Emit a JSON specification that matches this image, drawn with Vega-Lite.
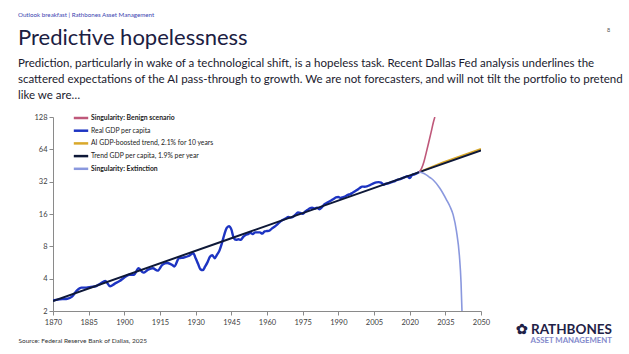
{
  "$schema": "https://vega.github.io/schema/vega-lite/v6.json",
  "background": "white",
  "padding": {"left": 18, "top": 12, "right": 17, "bottom": 0},
  "config": {
    "font": "Lato",
    "view": {"stroke": null},
    "concat": {"spacing": 0}
  },
  "title": {
    "text": "8",
    "anchor": "start",
    "frame": "group",
    "dx": 554,
    "dy": 21,
    "fontSize": 5.5,
    "fontWeight": "normal",
    "color": "#555555",
    "offset": 0
  },
  "data": {
    "values": [
      {"series": "Real GDP per capita", "year": 1870, "value": 2.5},
      {"series": "Real GDP per capita", "year": 1872, "value": 2.55},
      {"series": "Real GDP per capita", "year": 1874, "value": 2.58},
      {"series": "Real GDP per capita", "year": 1876, "value": 2.6},
      {"series": "Real GDP per capita", "year": 1878, "value": 2.72},
      {"series": "Real GDP per capita", "year": 1880, "value": 3.1},
      {"series": "Real GDP per capita", "year": 1882, "value": 3.3},
      {"series": "Real GDP per capita", "year": 1884, "value": 3.3},
      {"series": "Real GDP per capita", "year": 1886, "value": 3.35},
      {"series": "Real GDP per capita", "year": 1888, "value": 3.4},
      {"series": "Real GDP per capita", "year": 1890, "value": 3.6},
      {"series": "Real GDP per capita", "year": 1892, "value": 3.8},
      {"series": "Real GDP per capita", "year": 1894, "value": 3.4},
      {"series": "Real GDP per capita", "year": 1896, "value": 3.6},
      {"series": "Real GDP per capita", "year": 1898, "value": 3.8},
      {"series": "Real GDP per capita", "year": 1900, "value": 4.1},
      {"series": "Real GDP per capita", "year": 1902, "value": 4.35},
      {"series": "Real GDP per capita", "year": 1904, "value": 4.35},
      {"series": "Real GDP per capita", "year": 1906, "value": 5.0},
      {"series": "Real GDP per capita", "year": 1908, "value": 4.55},
      {"series": "Real GDP per capita", "year": 1910, "value": 4.85},
      {"series": "Real GDP per capita", "year": 1912, "value": 5.0},
      {"series": "Real GDP per capita", "year": 1914, "value": 4.75},
      {"series": "Real GDP per capita", "year": 1916, "value": 5.4},
      {"series": "Real GDP per capita", "year": 1918, "value": 5.6},
      {"series": "Real GDP per capita", "year": 1920, "value": 5.4},
      {"series": "Real GDP per capita", "year": 1921, "value": 5.2},
      {"series": "Real GDP per capita", "year": 1923, "value": 6.2},
      {"series": "Real GDP per capita", "year": 1925, "value": 6.3},
      {"series": "Real GDP per capita", "year": 1927, "value": 6.5},
      {"series": "Real GDP per capita", "year": 1929, "value": 6.9},
      {"series": "Real GDP per capita", "year": 1930, "value": 6.2},
      {"series": "Real GDP per capita", "year": 1931, "value": 5.5},
      {"series": "Real GDP per capita", "year": 1932, "value": 4.9},
      {"series": "Real GDP per capita", "year": 1933, "value": 4.8},
      {"series": "Real GDP per capita", "year": 1934, "value": 5.2},
      {"series": "Real GDP per capita", "year": 1935, "value": 5.7},
      {"series": "Real GDP per capita", "year": 1936, "value": 6.4},
      {"series": "Real GDP per capita", "year": 1937, "value": 6.6},
      {"series": "Real GDP per capita", "year": 1938, "value": 6.2},
      {"series": "Real GDP per capita", "year": 1939, "value": 6.7},
      {"series": "Real GDP per capita", "year": 1940, "value": 7.3},
      {"series": "Real GDP per capita", "year": 1941, "value": 8.5},
      {"series": "Real GDP per capita", "year": 1942, "value": 10.2},
      {"series": "Real GDP per capita", "year": 1943, "value": 11.8},
      {"series": "Real GDP per capita", "year": 1944, "value": 12.3},
      {"series": "Real GDP per capita", "year": 1945, "value": 11.5},
      {"series": "Real GDP per capita", "year": 1946, "value": 9.6},
      {"series": "Real GDP per capita", "year": 1947, "value": 9.2},
      {"series": "Real GDP per capita", "year": 1948, "value": 9.3},
      {"series": "Real GDP per capita", "year": 1949, "value": 9.2},
      {"series": "Real GDP per capita", "year": 1950, "value": 9.8},
      {"series": "Real GDP per capita", "year": 1951, "value": 10.2},
      {"series": "Real GDP per capita", "year": 1952, "value": 10.4},
      {"series": "Real GDP per capita", "year": 1953, "value": 10.7},
      {"series": "Real GDP per capita", "year": 1954, "value": 10.4},
      {"series": "Real GDP per capita", "year": 1955, "value": 10.8},
      {"series": "Real GDP per capita", "year": 1956, "value": 10.8},
      {"series": "Real GDP per capita", "year": 1957, "value": 10.8},
      {"series": "Real GDP per capita", "year": 1958, "value": 10.5},
      {"series": "Real GDP per capita", "year": 1959, "value": 11.0},
      {"series": "Real GDP per capita", "year": 1960, "value": 11.1},
      {"series": "Real GDP per capita", "year": 1961, "value": 11.2},
      {"series": "Real GDP per capita", "year": 1962, "value": 11.7},
      {"series": "Real GDP per capita", "year": 1963, "value": 12.1},
      {"series": "Real GDP per capita", "year": 1964, "value": 12.6},
      {"series": "Real GDP per capita", "year": 1965, "value": 13.2},
      {"series": "Real GDP per capita", "year": 1966, "value": 13.8},
      {"series": "Real GDP per capita", "year": 1968, "value": 14.6},
      {"series": "Real GDP per capita", "year": 1969, "value": 15.0},
      {"series": "Real GDP per capita", "year": 1970, "value": 14.8},
      {"series": "Real GDP per capita", "year": 1971, "value": 15.1},
      {"series": "Real GDP per capita", "year": 1972, "value": 15.8},
      {"series": "Real GDP per capita", "year": 1973, "value": 16.5},
      {"series": "Real GDP per capita", "year": 1974, "value": 16.4},
      {"series": "Real GDP per capita", "year": 1975, "value": 16.1},
      {"series": "Real GDP per capita", "year": 1976, "value": 16.8},
      {"series": "Real GDP per capita", "year": 1977, "value": 17.4},
      {"series": "Real GDP per capita", "year": 1978, "value": 18.1},
      {"series": "Real GDP per capita", "year": 1979, "value": 18.3},
      {"series": "Real GDP per capita", "year": 1980, "value": 18.0},
      {"series": "Real GDP per capita", "year": 1981, "value": 18.3},
      {"series": "Real GDP per capita", "year": 1982, "value": 17.7},
      {"series": "Real GDP per capita", "year": 1983, "value": 18.4},
      {"series": "Real GDP per capita", "year": 1984, "value": 19.6},
      {"series": "Real GDP per capita", "year": 1985, "value": 20.2},
      {"series": "Real GDP per capita", "year": 1986, "value": 20.8},
      {"series": "Real GDP per capita", "year": 1987, "value": 21.4},
      {"series": "Real GDP per capita", "year": 1988, "value": 22.1},
      {"series": "Real GDP per capita", "year": 1989, "value": 22.8},
      {"series": "Real GDP per capita", "year": 1990, "value": 23.0},
      {"series": "Real GDP per capita", "year": 1991, "value": 22.6},
      {"series": "Real GDP per capita", "year": 1992, "value": 23.0},
      {"series": "Real GDP per capita", "year": 1993, "value": 23.4},
      {"series": "Real GDP per capita", "year": 1994, "value": 24.1},
      {"series": "Real GDP per capita", "year": 1995, "value": 24.5},
      {"series": "Real GDP per capita", "year": 1996, "value": 25.2},
      {"series": "Real GDP per capita", "year": 1997, "value": 26.0},
      {"series": "Real GDP per capita", "year": 1998, "value": 26.9},
      {"series": "Real GDP per capita", "year": 1999, "value": 27.9},
      {"series": "Real GDP per capita", "year": 2000, "value": 28.8},
      {"series": "Real GDP per capita", "year": 2001, "value": 28.7},
      {"series": "Real GDP per capita", "year": 2002, "value": 28.9},
      {"series": "Real GDP per capita", "year": 2003, "value": 29.5},
      {"series": "Real GDP per capita", "year": 2004, "value": 30.3},
      {"series": "Real GDP per capita", "year": 2005, "value": 31.0},
      {"series": "Real GDP per capita", "year": 2006, "value": 31.5},
      {"series": "Real GDP per capita", "year": 2007, "value": 31.7},
      {"series": "Real GDP per capita", "year": 2008, "value": 31.4},
      {"series": "Real GDP per capita", "year": 2009, "value": 30.0},
      {"series": "Real GDP per capita", "year": 2010, "value": 30.6},
      {"series": "Real GDP per capita", "year": 2011, "value": 30.9},
      {"series": "Real GDP per capita", "year": 2012, "value": 31.5},
      {"series": "Real GDP per capita", "year": 2013, "value": 32.0},
      {"series": "Real GDP per capita", "year": 2014, "value": 32.6},
      {"series": "Real GDP per capita", "year": 2015, "value": 33.4},
      {"series": "Real GDP per capita", "year": 2016, "value": 33.8},
      {"series": "Real GDP per capita", "year": 2017, "value": 34.5},
      {"series": "Real GDP per capita", "year": 2018, "value": 35.3},
      {"series": "Real GDP per capita", "year": 2019, "value": 36.0},
      {"series": "Real GDP per capita", "year": 2020, "value": 34.6},
      {"series": "Real GDP per capita", "year": 2021, "value": 36.8},
      {"series": "Real GDP per capita", "year": 2022, "value": 37.5},
      {"series": "Real GDP per capita", "year": 2023, "value": 38.3},
      {"series": "Real GDP per capita", "year": 2024, "value": 39.2},
      {"series": "AI GDP-boosted trend, 2.1% for 10 years", "year": 2024, "value": 39.3},
      {"series": "AI GDP-boosted trend, 2.1% for 10 years", "year": 2034, "value": 48.3},
      {"series": "AI GDP-boosted trend, 2.1% for 10 years", "year": 2050, "value": 64.5},
      {"series": "Trend GDP per capita, 1.9% per year", "year": 1870, "value": 2.48},
      {"series": "Trend GDP per capita, 1.9% per year", "year": 1945, "value": 9.52},
      {"series": "Trend GDP per capita, 1.9% per year", "year": 2024, "value": 39.3},
      {"series": "Trend GDP per capita, 1.9% per year", "year": 2050, "value": 62.6},
      {"series": "Singularity: Benign scenario", "year": 2024, "value": 39.3},
      {"series": "Singularity: Benign scenario", "year": 2025, "value": 42.5},
      {"series": "Singularity: Benign scenario", "year": 2026, "value": 49},
      {"series": "Singularity: Benign scenario", "year": 2027, "value": 60},
      {"series": "Singularity: Benign scenario", "year": 2028, "value": 74},
      {"series": "Singularity: Benign scenario", "year": 2029, "value": 92},
      {"series": "Singularity: Benign scenario", "year": 2030, "value": 115},
      {"series": "Singularity: Benign scenario", "year": 2030.6, "value": 128},
      {"series": "Singularity: Extinction", "year": 2024, "value": 39.3},
      {"series": "Singularity: Extinction", "year": 2025.5, "value": 38.5},
      {"series": "Singularity: Extinction", "year": 2027, "value": 37},
      {"series": "Singularity: Extinction", "year": 2028.5, "value": 35},
      {"series": "Singularity: Extinction", "year": 2030, "value": 33},
      {"series": "Singularity: Extinction", "year": 2032.7, "value": 27.8},
      {"series": "Singularity: Extinction", "year": 2035.5, "value": 21.7},
      {"series": "Singularity: Extinction", "year": 2037, "value": 18.7},
      {"series": "Singularity: Extinction", "year": 2038.3, "value": 15.7},
      {"series": "Singularity: Extinction", "year": 2039.7, "value": 11},
      {"series": "Singularity: Extinction", "year": 2040.9, "value": 6.6},
      {"series": "Singularity: Extinction", "year": 2041.6, "value": 3.7},
      {"series": "Singularity: Extinction", "year": 2042, "value": 2}
    ]
  },
  "vconcat": [
    {
      "title": {
        "text": "Outlook breakfast | Rathbones Asset Management",
        "anchor": "start",
        "frame": "bounds",
        "fontSize": 6.2,
        "fontWeight": "normal",
        "color": "#3a3fb0",
        "offset": 8
      },
      "vconcat": [
        {
          "title": {
            "text": "✿ RATHBONES",
            "subtitle": "ASSET MANAGEMENT",
            "orient": "bottom",
            "anchor": "end",
            "frame": "group",
            "dx": 559,
            "offset": -21,
            "fontSize": 13.5,
            "fontWeight": "bold",
            "color": "#1f2247",
            "subtitleFontSize": 7.8,
            "subtitleFontWeight": "bold",
            "subtitleColor": "#8389cc",
            "subtitlePadding": 1
          },
          "vconcat": [
            {
              "width": 428,
              "height": 194,
              "title": {
                "text": "Predictive hopelessness",
                "subtitle": [
                  "Prediction, particularly in wake of a technological shift, is a hopeless task. Recent Dallas Fed analysis underlines the",
                  "scattered expectations of the AI pass-through to growth. We are not forecasters, and will not tilt the portfolio to pretend",
                  "like we are…"
                ],
                "anchor": "start",
                "frame": "bounds",
                "fontSize": 22,
                "fontWeight": "normal",
                "color": "#1b2042",
                "subtitleFontSize": 11.5,
                "subtitleColor": "#1a1a2e",
                "subtitleLineHeight": 16,
                "subtitlePadding": 8,
                "offset": 11
              },
              "encoding": {
                "x": {
                  "field": "year",
                  "type": "quantitative",
                  "scale": {"domain": [1870, 2050], "nice": false, "zero": false},
                  "axis": {
                    "values": [1870, 1885, 1900, 1915, 1930, 1945, 1960, 1975, 1990, 2005, 2020, 2035, 2050],
                    "format": "d",
                    "grid": false,
                    "labelFontSize": 7.5,
                    "labelColor": "#404040",
                    "labelFlush": false,
                    "tickColor": "#8a8a8a",
                    "domainColor": "#8a8a8a",
                    "tickSize": 4,
                    "labelPadding": 3,
                    "title": "Source: Federal Reserve Bank of Dallas, 2025",
                    "titleFontSize": 6.5,
                    "titleFontWeight": "normal",
                    "titleColor": "#333333",
                    "titleAnchor": "start",
                    "titleAlign": "left",
                    "titleX": -35,
                    "titleY": 29,
                    "titleBaseline": "middle"
                  }
                },
                "y": {
                  "field": "value",
                  "type": "quantitative",
                  "scale": {"type": "log", "base": 2, "domain": [2, 128], "nice": false},
                  "axis": {
                    "values": [2, 4, 8, 16, 32, 64, 128],
                    "grid": false,
                    "title": null,
                    "labelFontSize": 7.5,
                    "labelColor": "#404040",
                    "tickColor": "#8a8a8a",
                    "domainColor": "#8a8a8a",
                    "tickSize": 4,
                    "labelPadding": 2
                  }
                },
                "color": {
                  "field": "series",
                  "type": "nominal",
                  "scale": {
                    "domain": ["Singularity: Benign scenario", "Real GDP per capita", "AI GDP-boosted trend, 2.1% for 10 years", "Trend GDP per capita, 1.9% per year", "Singularity: Extinction"],
                    "range": ["#bf587a", "#1d34c2", "#d9a82a", "#0e1838", "#8a98de"]
                  },
                  "legend": {
                    "orient": "none",
                    "legendX": 22,
                    "legendY": -5,
                    "title": null,
                    "symbolType": "M-1.6,0H1.6",
                    "symbolStrokeWidth": 2.5,
                    "symbolSize": 81,
                    "labelFontSize": 6.8,
                    "labelColor": "#222222",
                    "labelFontWeight": {"expr": "indexof(datum.label, 'Singularity') >= 0 ? 'bold' : 'normal'"},
                    "rowPadding": 1.7,
                    "labelOffset": 4
                  }
                }
              },
              "layer": [
                {
                  "transform": [{"filter": "datum.series === 'Real GDP per capita'"}],
                  "mark": {"type": "line", "strokeWidth": 2.4, "interpolate": "monotone", "clip": true}
                },
                {
                  "transform": [{"filter": "datum.series === 'AI GDP-boosted trend, 2.1% for 10 years'"}],
                  "mark": {"type": "line", "strokeWidth": 2, "clip": true}
                },
                {
                  "transform": [{"filter": "datum.series === 'Trend GDP per capita, 1.9% per year'"}],
                  "mark": {"type": "line", "strokeWidth": 2, "clip": true}
                },
                {
                  "transform": [{"filter": "datum.series === 'Singularity: Benign scenario'"}],
                  "mark": {"type": "line", "strokeWidth": 1.6, "interpolate": "monotone", "clip": true}
                },
                {
                  "transform": [{"filter": "datum.series === 'Singularity: Extinction'"}],
                  "mark": {"type": "line", "strokeWidth": 1.6, "interpolate": "monotone", "clip": true}
                }
              ]
            }
          ]
        }
      ]
    }
  ]
}
